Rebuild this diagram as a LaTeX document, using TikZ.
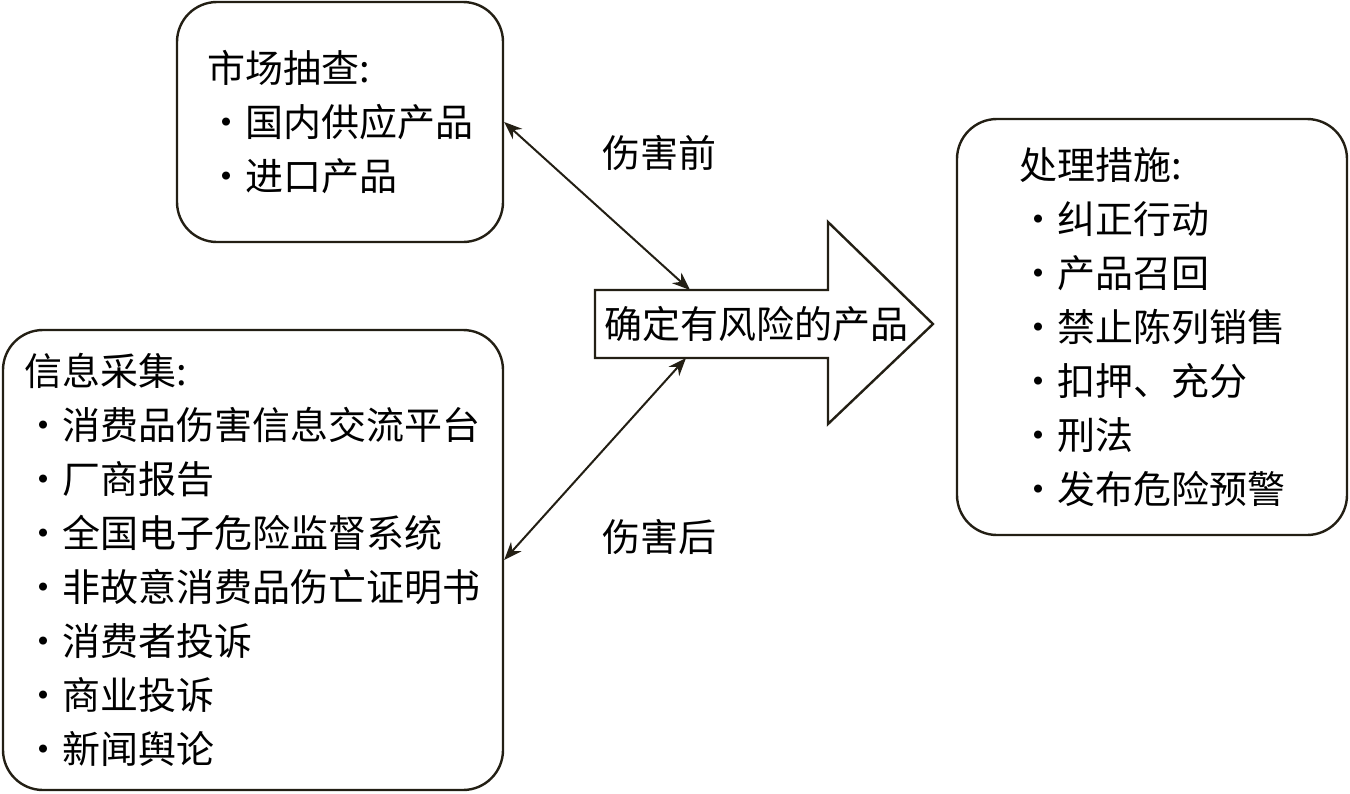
\documentclass[tikz,border=0pt]{standalone}
\usepackage{fontspec}
\setmainfont{Noto Sans CJK SC}
\usetikzlibrary{arrows.meta}

\newcommand{\itm}{\makebox[1em]{·}}

\begin{document}
\begin{tikzpicture}[x=0.5pt,y=-0.5pt]

% Colori
\definecolor{lineCol}{HTML}{231F14}

\tikzset{
  infobox/.style={draw=lineCol, line width=1.2pt, rounded corners=20pt,
    align=left, inner sep=0pt, font=\fontsize{19}{27}\selectfont},
  tag/.style={font=\fontsize{19}{22}\selectfont, inner sep=0pt},
  link/.style={lineCol, line width=1pt,
    {Stealth[length=9pt,width=7pt]}-{Stealth[length=9pt,width=7pt]}}
}

\useasboundingbox (0,0) rectangle (1350,793);

% Riquadri
\node[infobox, minimum width=163pt, minimum height=120pt] (market) at (340,122)
  {市场抽查:\\\itm 国内供应产品\\\itm 进口产品};
\node[infobox, minimum width=250pt, minimum height=230pt] (info) at (253,560)
  {信息采集:\\\itm 消费品伤害信息交流平台\\\itm 厂商报告\\\itm 全国电子危险监督系统\\\itm 非故意消费品伤亡证明书\\\itm 消费者投诉\\\itm 商业投诉\\\itm 新闻舆论};
\node[infobox, minimum width=195pt, minimum height=208pt] (measure) at (1152,327)
  {处理措施:\\\itm 纠正行动\\\itm 产品召回\\\itm 禁止陈列销售\\\itm 扣押、充分\\\itm 刑法\\\itm 发布危险预警};

% Freccia grande
\draw[lineCol, line width=1.2pt, fill=white]
  (595,290) -- (828,290) -- (828,222) -- (933,324) -- (828,424) -- (828,358) -- (595,358) -- cycle;
\node[tag] (risk) at (756,324) {确定有风险的产品};
\coordinate (shafttop) at (690,290);
\coordinate (shaftbot) at (686,358);

% Collegamenti
\draw[link] (market.east) -- (shafttop);
\draw[link] (info.east) -- (shaftbot);

% Etichette
\node[tag] (before) at (659,153) {伤害前};
\node[tag] (after) at (659,537) {伤害后};
\end{tikzpicture}
\end{document}
